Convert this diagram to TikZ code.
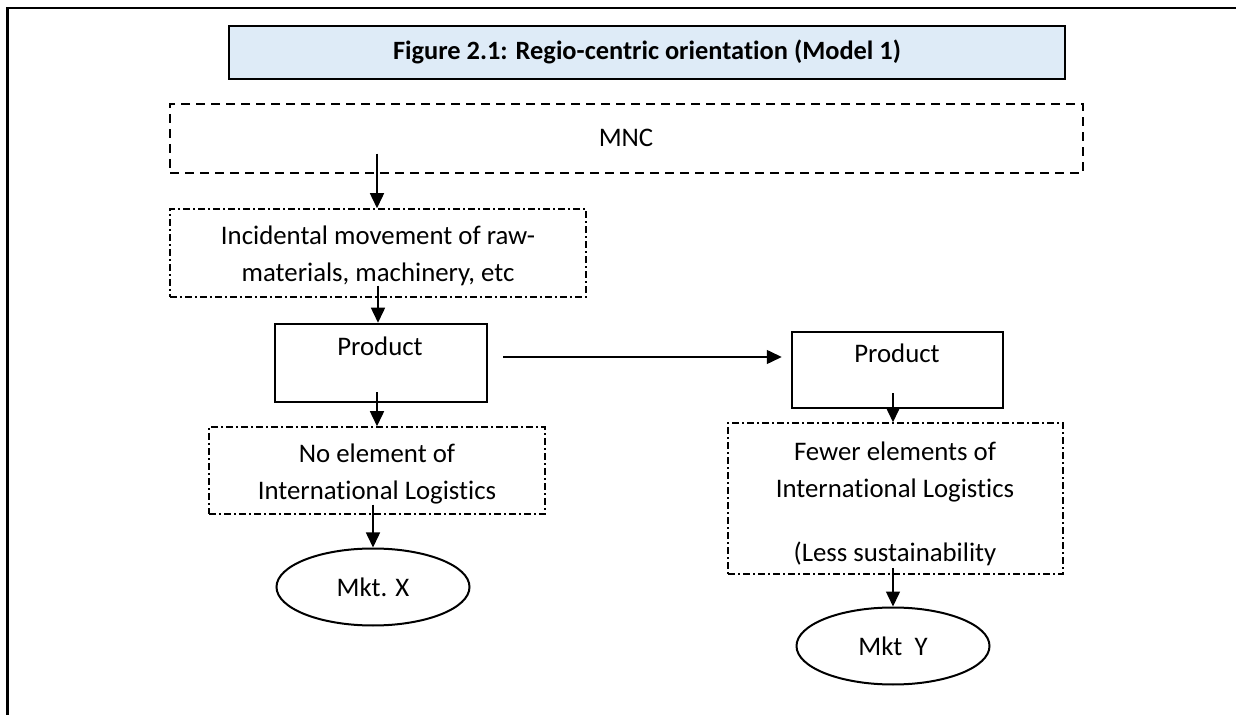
\documentclass[tikz,border=0pt]{standalone}
\usepackage{fontspec}
\setmainfont[Ligatures={NoCommon,NoRequired,NoContextual,NoRare},RawFeature={-liga;-clig;-calt;-dlig;-rlig}]{Carlito}
\usetikzlibrary{arrows.meta,fit,calc,shapes.geometric}
\definecolor{titlefill}{HTML}{DEEBF7}
\tikzset{
  px/.style={x=0.5pt,y=-0.5pt},
  frame/.style={line width=1.3pt},
  titlebox/.style={draw, line width=1pt, fill=titlefill, inner sep=0pt},
  dashbox/.style={draw, line width=0.75pt, dash pattern=on 4.5pt off 3pt, inner sep=0pt},
  dotdashbox/.style={draw, line width=0.75pt, dash pattern=on 3.5pt off 1.5pt on 1pt off 1.5pt, inner sep=0pt},
  solidbox/.style={draw, line width=1.25pt, inner sep=0pt},
  mkt/.style={draw, ellipse, line width=1pt, inner sep=0pt, minimum width=96.5pt, minimum height=38.5pt, font=\fontsize{13.4}{16}\selectfont},
  lbl/.style={align=center, inner sep=0pt, font=\fontsize{13.4}{18.5}\selectfont},
  ttl/.style={inner sep=0pt, font=\fontsize{13.2}{16}\selectfont\bfseries},
  arr/.style={line width=0.75pt, -{Triangle[length=7.5pt,width=7pt]}}
}
\begin{document}
\begin{tikzpicture}[px]
\useasboundingbox (0,0) rectangle (1236,715);
% frame
\coordinate (fA) at (1236,8);
\coordinate (fB) at (7.5,8);
\coordinate (fC) at (7.5,715);
\draw[frame] (fA) -- (fB) -- (fC);
% title
\node[titlebox, fit={(229,26) (1065,79)}] (title) {};
\node[ttl] (titletext) at (647,52) {Figure 2.1: Regio-centric orientation (Model 1)};
% MNC
\node[dashbox, fit={(170,104) (1083,173)}] (mnc) {};
\node[lbl] (mnctext) at (626,138) {MNC};
% incidental
\node[dotdashbox, fit={(170,209) (586,297)}] (inc) {};
\node[lbl] (inctext) at (378,256) {Incidental movement of raw-\\materials, machinery, etc};
% product left
\node[solidbox, fit={(275,324) (487,402)}] (prodL) {};
\node[lbl] (prodLtext) at (380,346) {Product};
% no element
\node[dotdashbox, fit={(209,427) (545,514)}] (noel) {};
\node[lbl] (noeltext) at (377,474) {No element of\\International Logistics};
% market X
\node[mkt] (mktX) at (373,587) {Mkt. X};
% product right
\node[solidbox, fit={(792,332) (1003,408)}] (prodR) {};
\node[lbl] (prodRtext) at (897,353) {Product};
% fewer
\node[dotdashbox, fit={(728,423) (1063,574)}] (fewer) {};
\node[lbl] (fewertext) at (895,504) {Fewer elements of\\International Logistics\\[13.5pt](Less sustainability};
% market Y
\node[mkt] (mktY) at (893,646) {Mkt\ \ Y};
% arrows
\draw[arr] ($(mnc.south -| inc.north)+(-1,-20)$) -- ($(inc.north)+(-1,0)$);
\draw[arr] ($(inc.south)+(0,-12)$) -- (prodL.north -| inc.south);
\draw[arr] ($(prodL.south -| noel.north)+(0,-11)$) -- (noel.north);
\draw[arr] ($(noel.south -| mktX.north)+(0,-10)$) -- (mktX.north);
\coordinate (hs) at ($(prodL.east)+(15,-6)$);
\draw[arr] (hs) -- ($(prodR.west |- hs)+(-9,0)$);
\draw[arr] ($(prodR.south -| mktY.north)+(0,-16)$) -- (fewer.north -| mktY.north);
\draw[arr] ($(fewer.south -| mktY.north)+(0,-7)$) -- (mktY.north);
\end{tikzpicture}
\end{document}
